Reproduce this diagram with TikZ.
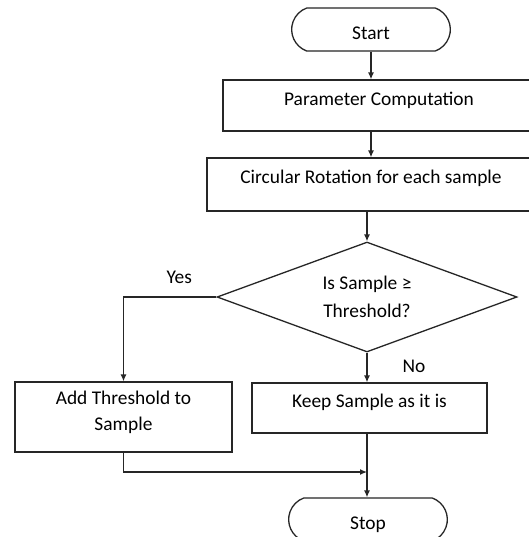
\documentclass[tikz,border=0pt]{standalone}
\usepackage{fontspec}
\setmainfont{Carlito}
\usetikzlibrary{shapes.misc,shapes.geometric,arrows.meta}

\tikzstyle{terminal}=[draw,rounded rectangle,rounded rectangle arc length=140,minimum width=86pt,inner ysep=0pt,text height=15.5pt,text depth=6pt]
\tikzstyle{processstep}=[draw,rectangle,inner ysep=0pt,text height=12.5pt,text depth=13pt]
\tikzstyle{decision}=[draw,diamond,aspect=2.727,minimum width=150pt,minimum height=55pt,inner sep=0pt,align=center]
\tikzstyle{orientedarc}=[->,>={Latex[length=3.5pt,width=3pt]}]

\begin{document}
\begin{tikzpicture}[x=0.5pt,y=-0.5pt,line width=0.65pt,draw=black!85,
  font=\fontsize{9.7}{13}\selectfont]

\path[fill=white,use as bounding box] (0,0) rectangle (529,537);

\node[terminal] (start) at (371,29.5) {Start};
\node[processstep,minimum width=156pt] (param) at (379,105.5) {Parameter Computation};
\node[processstep,minimum width=164pt,text depth=14pt] (rot) at (371,184.5) {Circular Rotation for each sample};
\node[decision] (test) at (367,297) {Is Sample ≥\\[1pt]Threshold?};
\node[processstep,minimum width=108.5pt,text height=24pt,text depth=11pt,align=center] (add) at (123.5,417) {Add Threshold to\\Sample};
\node[processstep,minimum width=117.5pt,text height=12pt] (keep) at (369.5,408) {Keep Sample as it is};
\node[terminal] (stop) at (368,519.5) {Stop};

\coordinate (merge) at (test.south |- 0,472);

\draw[orientedarc] (start.south) -- (start.south |- param.north);
\draw[orientedarc] (start.south |- param.south) -- (start.south |- rot.north);
\draw[orientedarc] (test.north |- rot.south) -- (test.north);
\draw[orientedarc] (test.west) -| node[pos=0.2,above=6.5pt,inner sep=0pt] {Yes} (add.north);
\draw[orientedarc] (test.south) -- node[pos=0.68,anchor=base west,xshift=17.5pt,inner sep=0pt] {No} (test.south |- keep.north);
\draw[orientedarc] (add.south) |- (merge);
\draw[orientedarc] (test.south |- keep.south) -- (test.south |- stop.north);

\end{tikzpicture}
\end{document}
